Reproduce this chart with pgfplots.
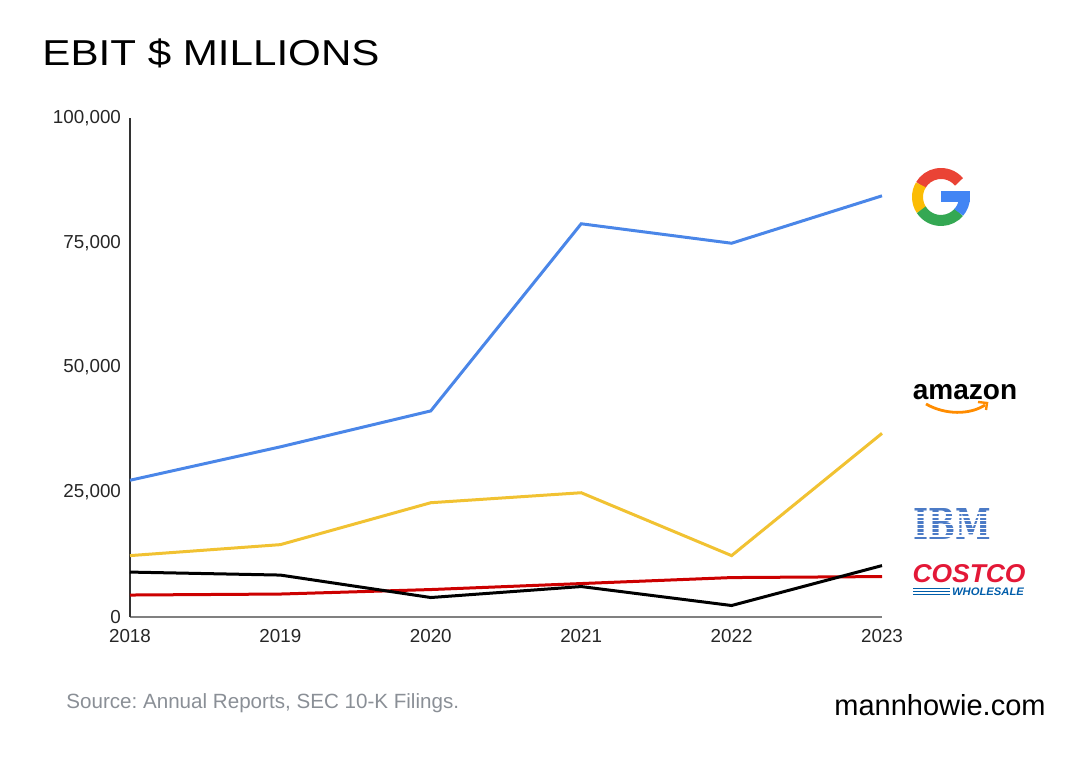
\documentclass[border=0pt]{standalone}
\usepackage{pgfplots}
\pgfplotsset{compat=1.18}
\usepackage{fontspec}
\setmainfont{Liberation Sans}
\newfontfamily\slab{DejaVu Serif}
\definecolor{gblue}{HTML}{4A86E8}
\definecolor{ayellow}{HTML}{F1C232}
\definecolor{cred}{HTML}{CC0000}
\definecolor{Gred}{HTML}{EA4335}
\definecolor{Gyellow}{HTML}{FBBC05}
\definecolor{Ggreen}{HTML}{34A853}
\definecolor{Gblue}{HTML}{4285F4}
\definecolor{ibmblue}{HTML}{4C7BC6}
\definecolor{costred}{HTML}{E31837}
\definecolor{costblue}{HTML}{005DAA}
\definecolor{srcgray}{HTML}{8A8F96}
\frenchspacing
\begin{document}
\begin{tikzpicture}
\begin{axis}[
  at={(0,0)}, anchor=south west, scale only axis,
  width=376pt, height=249.5pt,
  xmin=2018, xmax=2023, ymin=0, ymax=100000,
  axis x line=bottom, axis y line=left,
  x axis line style={-, draw=black!50, line width=0.8pt},
  y axis line style={-, draw=black!80, line width=0.6pt},
  xtick={2018,2019,2020,2021,2022,2023},
  xticklabels={2018,2019,2020,2021,2022,2023},
  ytick={0,25000,50000,75000,100000},
  yticklabels={0,{25,000},{50,000},{75,000},{100,000}},
  major tick length=0pt,
  scaled y ticks=false,
  tick label style={font=\fontsize{9.4}{11}\selectfont, text=black!85},
  yticklabel style={xshift=-1pt},
  xticklabel style={yshift=-2.5pt},
  clip=false,
]
\addplot[gblue, line width=1.5pt] coordinates {(2018,27400) (2019,34100) (2020,41300) (2021,78800) (2022,74900) (2023,84400)};
\addplot[ayellow, line width=1.5pt] coordinates {(2018,12300) (2019,14500) (2020,22900) (2021,24900) (2022,12300) (2023,36800)};
\addplot[cred, line width=1.5pt] coordinates {(2018,4400) (2019,4600) (2020,5500) (2021,6700) (2022,7900) (2023,8100)};
\addplot[black, line width=1.5pt] coordinates {(2018,9000) (2019,8400) (2020,3900) (2021,6100) (2022,2300) (2023,10300)};
\end{axis}
\begin{scope}[shift={(-65pt,308.5pt)}, x=0.5pt, y=-0.5pt]
  \path (0,0) rectangle (1092,774);
  % title
  \node[anchor=west, inner sep=0pt, xscale=1.17] at (42,53) {\fontsize{18}{20}\selectfont EBIT \$ MILLIONS};
  % source
  \node[anchor=west, inner sep=0pt, text=srcgray] at (66,703) {\fontsize{10.3}{12}\selectfont Source: Annual Reports, SEC 10-K Filings.};
  \node[anchor=east, inner sep=0pt] at (1046,705) {\fontsize{14.5}{17}\selectfont mannhowie.com};
  % Google G
  \begin{scope}[shift={(941,197)}, x=0.5pt, y=0.5pt]
    \draw[Gred, line width=5.5pt] (40:23.5) arc[start angle=40, end angle=150, radius=23.5];
    \draw[Gyellow, line width=5.5pt] (149:23.5) arc[start angle=149, end angle=214, radius=23.5];
    \draw[Ggreen, line width=5.5pt] (213:23.5) arc[start angle=213, end angle=320, radius=23.5];
    \draw[Gblue, line width=5.5pt] (319:23.5) arc[start angle=319, end angle=360, radius=23.5];
    \fill[Gblue] (0,5.5) rectangle (29,-5.5);
  \end{scope}
  % amazon
  \node[inner sep=0pt] at (965,392) {\fontsize{14}{16}\selectfont\bfseries amazon};
  \draw[orange!90!yellow, line width=1.4pt] (926,404) .. controls (945,415) and (970,415) .. (985,405);
  \draw[orange!90!yellow, line width=1.2pt] (978,402) -- (987,403) -- (986,410);
  % IBM
  \node[inner sep=0pt, text=ibmblue, anchor=center] at (952,524.5) {\resizebox{39pt}{15.5pt}{\slab\bfseries IBM}};
  \foreach \k in {1,...,7} {
    \draw[white, line width=0.8pt] (908,{509+3.9*\k}) -- (996,{509+3.9*\k});
  }
  % Costco
  \node[inner sep=0pt, text=costred] at (969,574) {\resizebox{56.5pt}{9pt}{\bfseries\itshape COSTCO}};
  \foreach \yy in {588.5,591.5,594.5} {
    \draw[costblue, line width=0.7pt] (913,\yy) -- (950,\yy);
  }
  \node[inner sep=0pt, text=costblue] at (988,592) {\resizebox{36pt}{3.8pt}{\bfseries\itshape WHOLESALE}};
\end{scope}
\end{tikzpicture}
\end{document}
